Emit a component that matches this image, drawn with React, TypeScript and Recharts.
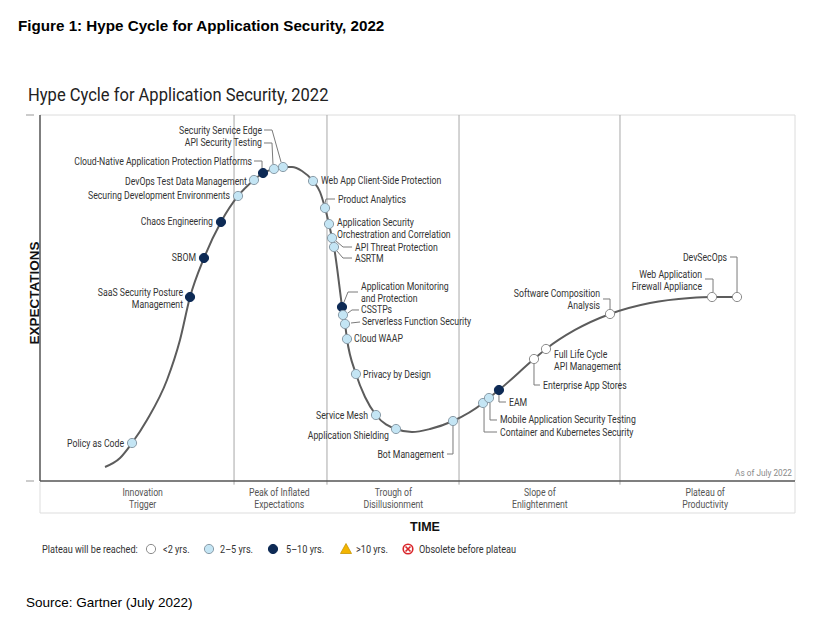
import { ComposedChart, Line, Scatter, XAxis, YAxis, ReferenceLine } from "recharts";

// time axis 0..100 (left..right), expectations 0..100 (bottom..top)
const CURVE_T = [
  8.61, 10.6, 12.19, 14.17, 16.82, 18.54, 19.87, 21.72, 23.97, 26.23,
  28.34, 29.54, 30.99, 32.19, 33.38, 34.7, 36.16, 37.09, 37.75, 38.28,
  38.68, 38.94, 39.47, 40.0, 40.13, 40.4, 40.66, 41.85, 43.05, 44.5,
  47.15, 49.27, 51.66, 54.7, 58.68, 59.47, 60.79, 65.43, 67.02, 70.86,
  75.5, 80.79, 86.09, 89.01, 92.32,
];
const CURVE_E = [
  3.83, 6.28, 10.38, 16.67, 27.6, 38.52, 50.27, 60.93, 70.77, 77.87,
  82.24, 84.15, 85.25, 85.79, 85.79, 84.7, 81.97, 78.96, 74.59, 70.22,
  66.39, 63.93, 56.28, 47.54, 45.36, 42.9, 38.8, 29.23, 22.95, 18.03,
  14.21, 13.39, 14.21, 16.39, 21.31, 22.68, 24.86, 33.33, 36.07, 41.26,
  45.63, 48.63, 50.0, 50.27, 50.27,
];

const ITEM_NAMES = [
  "Policy as Code",
  "SaaS Security Posture\nManagement",
  "SBOM",
  "Chaos Engineering",
  "Securing Development Environments",
  "DevOps Test Data Management",
  "Cloud-Native Application Protection Platforms",
  "API Security Testing",
  "Security Service Edge",
  "Web App Client-Side Protection",
  "Product Analytics",
  "Application Security\nOrchestration and Correlation",
  "API Threat Protection",
  "ASRTM",
  "Application Monitoring\nand Protection",
  "CSSTPs",
  "Serverless Function Security",
  "Cloud WAAP",
  "Privacy by Design",
  "Service Mesh",
  "Application Shielding",
  "Bot Management",
  "Container and Kubernetes Security",
  "Mobile Application Security Testing",
  "EAM",
  "Enterprise App Stores",
  "Full Life Cycle\nAPI Management",
  "Software Composition\nAnalysis",
  "Web Application\nFirewall Appliance",
  "DevSecOps",
];
const ITEM_T = [
  12.19, 19.87, 21.72, 23.97, 26.23, 28.34, 29.54, 30.99, 32.19, 36.16,
  37.75, 38.28, 38.68, 38.94, 40.0, 40.13, 40.4, 40.66, 41.85, 44.5,
  47.15, 54.7, 58.68, 59.47, 60.79, 65.43, 67.02, 75.5, 89.01, 92.32,
];
const ITEM_E = [
  10.38, 50.27, 60.93, 70.77, 77.87, 82.24, 84.15, 85.25, 85.79, 81.97,
  74.59, 70.22, 66.39, 63.93, 47.54, 45.36, 42.9, 38.8, 29.23, 18.03,
  14.21, 16.39, 21.31, 22.68, 24.86, 33.33, 36.07, 45.63, 50.27, 50.27,
];
const ITEM_PLATEAU = [
  "2-5", "5-10", "5-10", "5-10", "2-5", "2-5", "5-10", "2-5", "2-5", "2-5",
  "2-5", "2-5", "2-5", "2-5", "5-10", "2-5", "2-5", "2-5", "2-5", "2-5",
  "2-5", "2-5", "2-5", "2-5", "5-10", "<2", "<2", "<2", "<2", "<2",
];

const SEPARATORS = [25.7, 38.01, 55.5, 76.82];
const PHASE_CENTERS = [13.6, 31.7, 46.8, 66.2, 88.1];
const PHASE_NAMES = [
  "Innovation\nTrigger",
  "Peak of Inflated\nExpectations",
  "Trough of\nDisillusionment",
  "Slope of\nEnlightenment",
  "Plateau of\nProductivity",
];

const PLATEAU_STYLE: Record<string, { fill: string; stroke: string }> = {
  "<2": { fill: "#ffffff", stroke: "#8c8c8c" },
  "2-5": { fill: "#c4e5f4", stroke: "#8a9ca8" },
  "5-10": { fill: "#0d2a55", stroke: "#0d2a55" },
};

type Layout = { anchor: "start" | "end"; dx: number; dy: number; leader?: number[][] };

// label placement relative to each dot (pixels), same order as ITEM_NAMES
const LABEL_LAYOUT: Layout[] = [
  { anchor: "end", dx: -8, dy: 0 },
  { anchor: "end", dx: -7, dy: -5 },
  { anchor: "end", dx: -8, dy: 0 },
  { anchor: "end", dx: -8, dy: 0 },
  { anchor: "end", dx: -8, dy: 0 },
  { anchor: "end", dx: -7, dy: 1 },
  { anchor: "end", dx: -11, dy: -12, leader: [[-9, -12], [-1, -12], [-1, -5]] },
  { anchor: "end", dx: -12, dy: -26, leader: [[-10, -26], [-2, -26], [-1, -5]] },
  { anchor: "end", dx: -21, dy: -37, leader: [[-19, -37], [-11, -37], [-2, -5]] },
  { anchor: "start", dx: 8, dy: 0 },
  { anchor: "start", dx: 13, dy: -9, leader: [[0, -5], [1, -9], [10, -9]] },
  { anchor: "start", dx: 8, dy: -1 },
  { anchor: "start", dx: 23, dy: 9, leader: [[4, 3], [11, 9], [20, 9]] },
  { anchor: "start", dx: 21, dy: 11, leader: [[3, 4], [9, 11], [18, 11]] },
  { anchor: "start", dx: 19, dy: -21, leader: [[2, -5], [6, -15], [16, -15]] },
  { anchor: "start", dx: 18, dy: -5, leader: [[5, -2], [9, -5], [16, -5]] },
  { anchor: "start", dx: 17, dy: -2, leader: [[6, -1], [15, -2]] },
  { anchor: "start", dx: 7, dy: 0 },
  { anchor: "start", dx: 7, dy: 0 },
  { anchor: "end", dx: -8, dy: 0 },
  { anchor: "end", dx: -7, dy: 7 },
  { anchor: "end", dx: -9, dy: 33, leader: [[0, 5], [0, 33], [-6, 33]] },
  { anchor: "start", dx: 17, dy: 29, leader: [[1, 5], [1, 29], [14, 29]] },
  { anchor: "start", dx: 11, dy: 22, leader: [[1, 5], [1, 22], [8, 22]] },
  { anchor: "start", dx: 10, dy: 12, leader: [[0, 5], [0, 12], [7, 12]] },
  { anchor: "start", dx: 9, dy: 26, leader: [[0, 5], [0, 26], [6, 26]] },
  { anchor: "start", dx: 8, dy: 6 },
  { anchor: "end", dx: -10, dy: -20, leader: [[-7, -15], [0, -15], [0, -5]] },
  { anchor: "end", dx: -10, dy: -23, leader: [[-7, -18], [1, -18], [1, -5]] },
  { anchor: "end", dx: -10, dy: -40, leader: [[-7, -40], [0, -40], [0, -5]] },
];

const curveData = CURVE_T.map((t, i) => ({ t, e: CURVE_E[i] }));
const itemData = ITEM_NAMES.map((name, i) => ({
  idx: i,
  name,
  t: ITEM_T[i],
  e: ITEM_E[i],
  plateau: ITEM_PLATEAU[i],
}));

const NARROW = 0.87;
const FONT = "Roboto, 'Noto Sans', sans-serif";

function NarrowText({ x, y, anchor = "start", size = 10, fill = "#333", weight = 400, children }: any) {
  return (
    <text
      transform={`translate(${x},${y}) scale(${NARROW},1)`}
      textAnchor={anchor}
      dy="0.35em"
      fontSize={size}
      fontWeight={weight}
      fill={fill}
      fontFamily={FONT}
    >
      {children}
    </text>
  );
}

function ItemDot(props: any) {
  const { cx, cy, payload } = props;
  const lay = LABEL_LAYOUT[payload.idx];
  const st = PLATEAU_STYLE[payload.plateau];
  const lines: string[] = payload.name.split("\n");
  return (
    <g>
      {lay.leader && (
        <polyline
          points={lay.leader.map(([x, y]) => `${cx + x},${cy + y}`).join(" ")}
          fill="none"
          stroke="#7a7a7a"
          strokeWidth={1}
        />
      )}
      <circle cx={cx} cy={cy} r={4.6} fill={st.fill} stroke={st.stroke} strokeWidth={1} />
      {lines.map((ln, i) => (
        <NarrowText key={i} x={cx + lay.dx} y={cy + lay.dy + i * 12} anchor={lay.anchor}>
          {ln}
        </NarrowText>
      ))}
    </g>
  );
}

function PhaseTick(props: any) {
  const { x, y, index } = props;
  const lines = (PHASE_NAMES[index] ?? "").split("\n");
  return (
    <g>
      {lines.map((ln, i) => (
        <NarrowText key={i} x={x} y={y + 11 + i * 12} anchor="middle" fill="#555">
          {ln}
        </NarrowText>
      ))}
    </g>
  );
}

function DashTick(props: any) {
  const { x, y } = props;
  return <line x1={x - 14} x2={x - 6} y1={y} y2={y} stroke="#999" strokeWidth={1} />;
}

function Overlay() {
  return (
    <svg
      width={840}
      height={639}
      style={{ position: "absolute", left: 0, top: 0, pointerEvents: "none" }}
    >
      <text x={18} y={31} fontFamily="'Liberation Sans', Arial, sans-serif" fontWeight={700} fontSize={15.2} fill="#000">
        Figure 1: Hype Cycle for Application Security, 2022
      </text>
      <text
        transform={`translate(28,101) scale(${NARROW},1)`}
        fontFamily={FONT}
        fontSize={19}
        fill="#222"
      >
        Hype Cycle for Application Security, 2022
      </text>
      <text
        transform="translate(34,293) rotate(-90)"
        textAnchor="middle"
        dy="0.35em"
        fontFamily="'Liberation Sans', Arial, sans-serif"
        fontWeight={700}
        fontSize={13.5}
        fill="#111"
      >
        EXPECTATIONS
      </text>
      <NarrowText x={792} y={473} anchor="end" size={9.5} fill="#8a8a8a">
        As of July 2022
      </NarrowText>
      {/* phase label box */}
      <polyline points="40,482 40,513 795,513 795,482" fill="none" stroke="#ddd" strokeWidth={1} />
      <text x={425} y={531} textAnchor="middle" fontFamily="'Liberation Sans', Arial, sans-serif" fontWeight={700} fontSize={12.5} fill="#111">
        TIME
      </text>
      {/* legend */}
      <NarrowText x={42} y={549} size={10.5}>Plateau will be reached:</NarrowText>
      <circle cx={151} cy={549} r={4.6} fill="#fff" stroke="#8c8c8c" />
      <NarrowText x={163} y={549} size={10.5}>&lt;2 yrs.</NarrowText>
      <circle cx={209} cy={549} r={4.6} fill="#c4e5f4" stroke="#8a9ca8" />
      <NarrowText x={220} y={549} size={10.5}>2–5 yrs.</NarrowText>
      <circle cx={273} cy={549} r={4.6} fill="#0d2a55" stroke="#0d2a55" />
      <NarrowText x={286} y={549} size={10.5}>5–10 yrs.</NarrowText>
      <polygon points="346,543.5 351.5,553.5 340.5,553.5" fill="#f3b500" stroke="#c89400" strokeWidth={0.8} />
      <NarrowText x={356} y={549} size={10.5}>&gt;10 yrs.</NarrowText>
      <circle cx={408} cy={549} r={4.8} fill="#fff" stroke="#d9262b" strokeWidth={1.6} />
      <line x1={405.5} y1={546.5} x2={410.5} y2={551.5} stroke="#d9262b" strokeWidth={1.6} />
      <line x1={410.5} y1={546.5} x2={405.5} y2={551.5} stroke="#d9262b" strokeWidth={1.6} />
      <NarrowText x={419} y={549} size={10.5}>Obsolete before plateau</NarrowText>
      <text x={26} y={607} fontFamily="'Liberation Sans', Arial, sans-serif" fontSize={13.5} fill="#000">
        Source: Gartner (July 2022)
      </text>
    </svg>
  );
}

export default function App() {
  return (
    <div style={{ position: "absolute", left: 0, top: 0, width: 840, height: 639, background: "#fff" }}>
      <ComposedChart width={840} height={639} margin={{ top: 115, right: 45, bottom: 125, left: 10 }}>
        <XAxis
          dataKey="t"
          type="number"
          domain={[0, 100]}
          ticks={PHASE_CENTERS}
          interval={0}
          tick={<PhaseTick />}
          tickLine={false}
          tickSize={0}
          tickMargin={0}
          height={33}
          axisLine={{ stroke: "#555", strokeWidth: 1.5 }}
        />
        <YAxis
          dataKey="e"
          type="number"
          domain={[0, 100]}
          ticks={[0, 100]}
          width={30}
          tick={<DashTick />}
          tickLine={false}
          tickSize={0}
          tickMargin={0}
          axisLine={{ stroke: "#555", strokeWidth: 1.5 }}
        />
        <ReferenceLine y={100} stroke="#dcdcdc" />
        <ReferenceLine x={100} stroke="#dcdcdc" />
        {SEPARATORS.map((s) => (
          <ReferenceLine
            key={s}
            ifOverflow="visible"
            segment={[{ x: s, y: -1 }, { x: s, y: 100 }]}
            stroke="#a8a8a8"
          />
        ))}
        <Line
          data={curveData}
          dataKey="e"
          type="monotone"
          stroke="#5c5c5c"
          strokeWidth={2}
          dot={false}
          activeDot={false}
          isAnimationActive={false}
        />
        <Scatter data={itemData} dataKey="e" shape={(p: any) => <ItemDot {...p} />} isAnimationActive={false} />
      </ComposedChart>
      <Overlay />
    </div>
  );
}
